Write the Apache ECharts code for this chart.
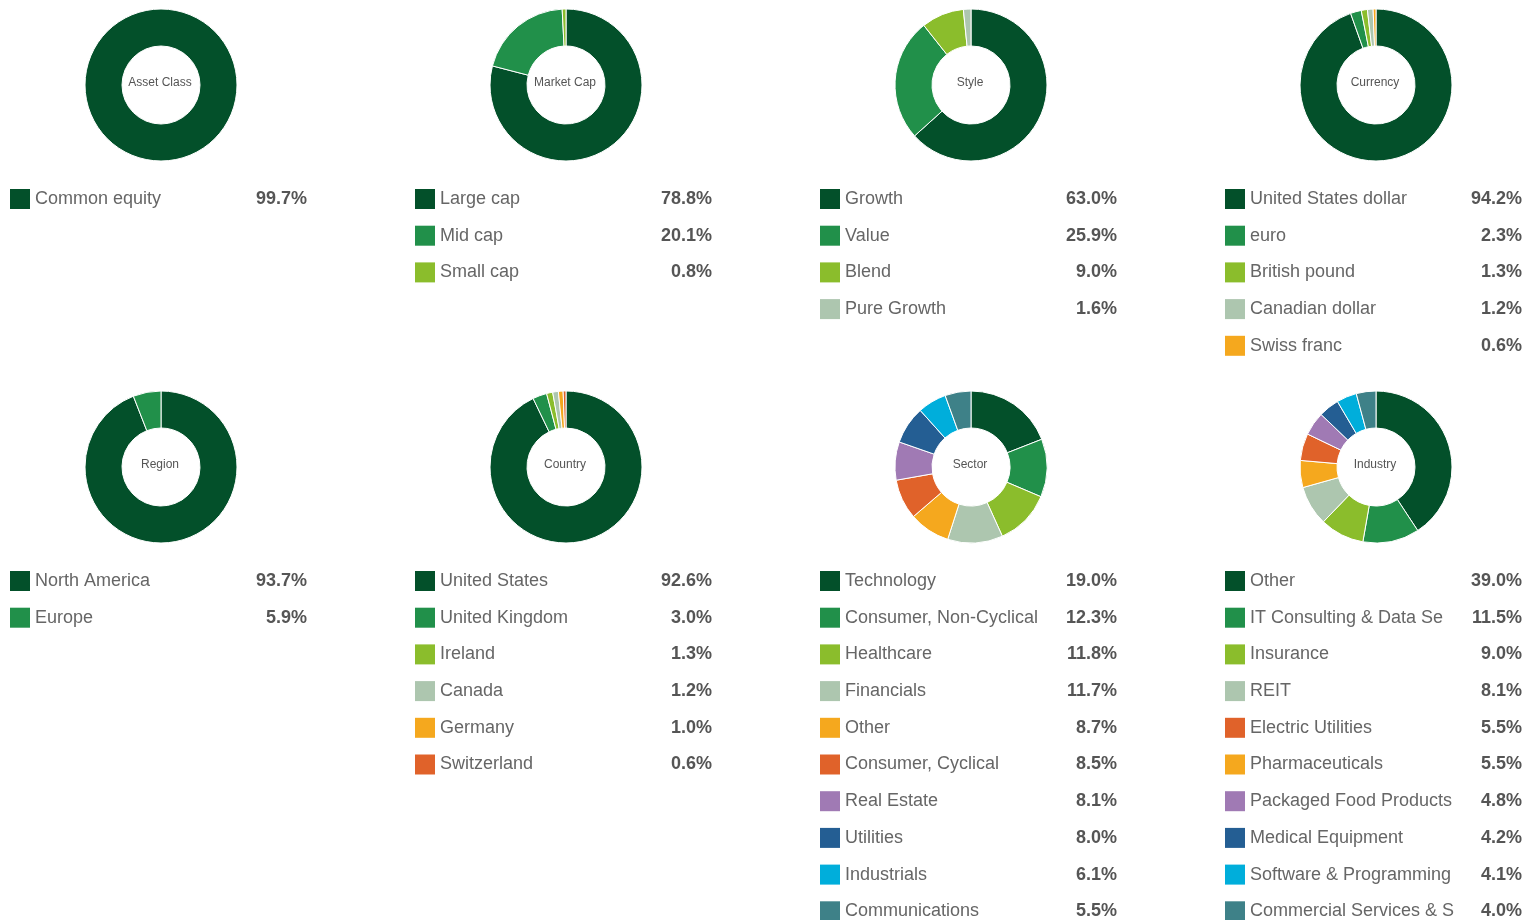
<!DOCTYPE html>
<html>
<head>
<meta charset="utf-8">
<script src="https://cdn.jsdelivr.net/npm/echarts@6/dist/echarts.min.js"></script>
<style>
  html, body { margin: 0; padding: 0; background: #fff; width: 1537px; height: 920px; overflow: hidden; }
  .pie-box { position: absolute; width: 405px; }
</style>
</head>
<body>
<div id="wrap"></div>
<script>
// palette used by every donut, in slice order
const palette = ['#03502a', '#21904a', '#8bbd2c', '#adc6af', '#f5a81e', '#e0622a', '#a07ab4', '#245e93', '#00aedb', '#3e8188'];

const assetNames = ['Common equity'];
const assetValues = [99.7];

const capNames = ['Large cap', 'Mid cap', 'Small cap'];
const capValues = [78.8, 20.1, 0.8];

const styleNames = ['Growth', 'Value', 'Blend', 'Pure Growth'];
const styleValues = [63.0, 25.9, 9.0, 1.6];

const currencyNames = ['United States dollar', 'euro', 'British pound', 'Canadian dollar', 'Swiss franc'];
const currencyValues = [94.2, 2.3, 1.3, 1.2, 0.6];

const regionNames = ['North America', 'Europe'];
const regionValues = [93.7, 5.9];

const countryNames = ['United States', 'United Kingdom', 'Ireland', 'Canada', 'Germany', 'Switzerland'];
const countryValues = [92.6, 3.0, 1.3, 1.2, 1.0, 0.6];

const sectorNames = ['Technology', 'Consumer, Non-Cyclical', 'Healthcare', 'Financials', 'Other',
    'Consumer, Cyclical', 'Real Estate', 'Utilities', 'Industrials', 'Communications'];
const sectorValues = [19.0, 12.3, 11.8, 11.7, 8.7, 8.5, 8.1, 8.0, 6.1, 5.5];

const industryNames = ['Other', 'IT Consulting & Data Se', 'Insurance', 'REIT', 'Electric Utilities',
    'Pharmaceuticals', 'Packaged Food Products', 'Medical Equipment', 'Software & Programming', 'Commercial Services & S'];
const industryValues = [39.0, 11.5, 9.0, 8.1, 5.5, 5.5, 4.8, 4.2, 4.1, 4.0];
// the two 5.5% slices are drawn in the other order around the ring
const industrySliceOrder = [0, 1, 2, 3, 5, 4, 6, 7, 8, 9];

const panels = [
    { title: 'Asset Class', names: assetNames, values: assetValues },
    { title: 'Market Cap', names: capNames, values: capValues },
    { title: 'Style', names: styleNames, values: styleValues },
    { title: 'Currency', names: currencyNames, values: currencyValues },
    { title: 'Region', names: regionNames, values: regionValues },
    { title: 'Country', names: countryNames, values: countryValues },
    { title: 'Sector', names: sectorNames, values: sectorValues },
    { title: 'Industry', names: industryNames, values: industryValues, order: industrySliceOrder }
];

const FONT = '"Liberation Sans", Arial, Helvetica, sans-serif';
const wrap = document.getElementById('wrap');

panels.forEach((p, i) => {
    const col = i % 4, row = Math.floor(i / 4);
    const div = document.createElement('div');
    div.className = 'pie-box';
    div.style.left = (col * 405) + 'px';
    div.style.top = (row * 382) + 'px';
    div.style.height = (row === 0 ? 382 : 600) + 'px';
    wrap.appendChild(div);

    const chart = echarts.init(div, null, { renderer: 'canvas' });
    const lookup = {};
    p.names.forEach((n, k) => { lookup[n] = p.values[k]; });
    const order = p.order || p.names.map((_, k) => k);

    chart.setOption({
        animation: false,
        color: palette,
        textStyle: { fontFamily: FONT },
        // center caption
        graphic: [{
            type: 'text',
            x: 160,
            y: 83,
            silent: true,
            style: {
                text: p.title,
                align: 'center',
                verticalAlign: 'middle',
                fill: '#555',
                font: '12px ' + FONT
            }
        }],
        legend: {
            orient: 'vertical',
            left: 10,
            top: 189,
            padding: 0,
            itemWidth: 20,
            itemHeight: 20,
            itemGap: 16.7,
            icon: 'rect',
            itemStyle: { borderWidth: 0 },
            selectedMode: false,
            data: p.names,
            formatter: (name) => `{n|${name}}{v|${lookup[name].toFixed(1)}%}`,
            textStyle: {
                lineHeight: 20,
                rich: {
                    n: { width: 212, fontSize: 18, color: '#666', fontFamily: FONT, lineHeight: 20 },
                    v: { width: 60, align: 'right', fontSize: 18, fontWeight: 'bold', color: '#555', fontFamily: FONT, lineHeight: 20 }
                }
            }
        },
        series: [{
            type: 'pie',
            center: [161, 85],
            radius: [39, 76],
            startAngle: 90,
            clockwise: true,
            silent: true,
            label: { show: false },
            labelLine: { show: false },
            itemStyle: { borderColor: '#fff', borderWidth: 1 },
            data: order.map(k => ({ name: p.names[k], value: p.values[k] }))
        }]
    });
});
</script>
</body>
</html>
